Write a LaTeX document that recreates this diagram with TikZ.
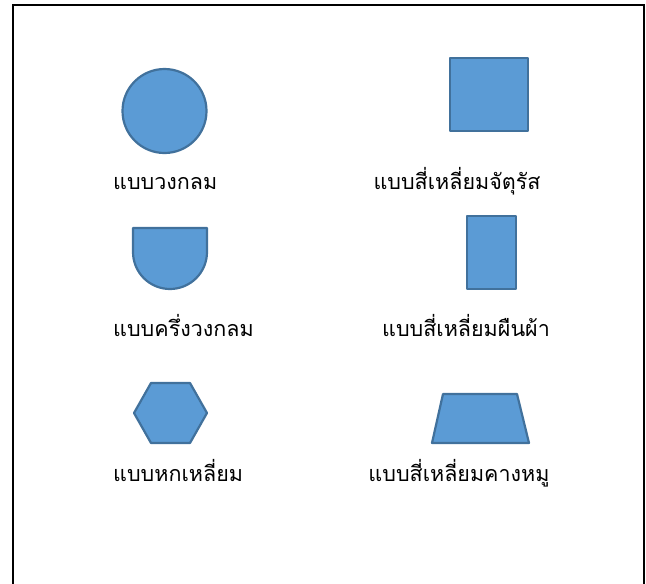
\documentclass[tikz,border=0pt]{standalone}
\usepackage{fontspec}
\newfontfamily\thaifont[Script=Thai]{Loma}
\definecolor{shapefill}{HTML}{5B9BD5}
\definecolor{shapeline}{HTML}{41719C}
\begin{document}
\begin{tikzpicture}[x=1pt,y=-1pt,
  shp/.style={fill=shapefill,draw=shapeline,line width=2.2pt,line join=round},
  lbl/.style={font=\thaifont\fontsize{21.5}{24}\selectfont,text=black,inner sep=0pt,anchor=base},
  lbll/.style={lbl,anchor=base west}]
\useasboundingbox (0,0) rectangle (646,584);
\draw[line width=2.5pt] (13,590) -- (13,5) -- (644,5) -- (644,590);
% shapes
\node[shp,circle,minimum size=84pt,inner sep=0pt] (circ) at (164.5,111) {};
\node[shp,rectangle,minimum width=78pt,minimum height=73pt,inner sep=0pt] (sq) at (489,94.5) {};
\draw[shp] (133,228) -- (207,228) -- (207,252) arc[start angle=0,end angle=180,radius=37] -- cycle;
\coordinate (half) at (170,258);
\node[shp,rectangle,minimum width=49pt,minimum height=73pt,inner sep=0pt] (rect) at (491.5,252.5) {};
\draw[shp] (134,413) -- (151,383) -- (190,383) -- (207,413) -- (190,443) -- (151,443) -- cycle;
\draw[shp] (443,394) -- (517,394) -- (529,443) -- (432,443) -- cycle;
% labels
\node[lbll] (l1) at (113,189) {แบบวงกลม};
\node[lbl] (r1) at (457,189) {แบบสี่เหลี่ยมจัตุรัส};
\node[lbll] (l2) at (113,336) {แบบครึ่งวงกลม};
\node[lbl] (r2) at (466,336) {แบบสี่เหลี่ยมผืนผ้า};
\node[lbll] (l3) at (113,481) {แบบหกเหลี่ยม};
\node[lbl] (r3) at (459,481) {แบบสี่เหลี่ยมคางหมู};
\end{tikzpicture}
\end{document}
